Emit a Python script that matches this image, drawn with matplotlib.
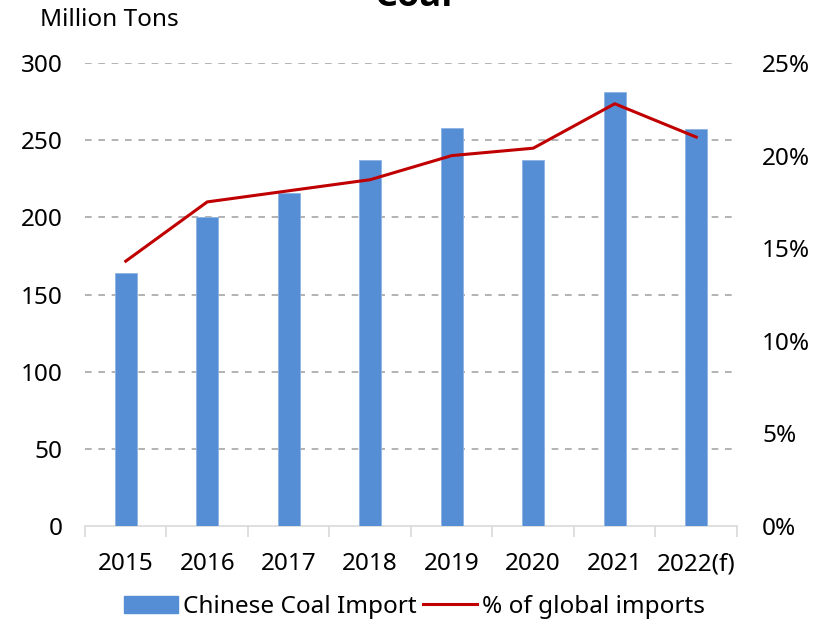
import matplotlib
matplotlib.use("Agg")
import matplotlib.pyplot as plt
from matplotlib.patches import Patch
from matplotlib.lines import Line2D
from matplotlib.ticker import FuncFormatter, MultipleLocator
import numpy as np

years = ["2015", "2016", "2017", "2018", "2019", "2020", "2021", "2022(f)"]
coal_import = [164, 200, 216, 237, 258, 237, 281, 257]
global_share = [14.3, 17.5, 18.1, 18.7, 20.0, 20.4, 22.8, 21.0]

plt.rcParams['font.family'] = ['Noto Sans', 'DejaVu Sans']

fig = plt.figure(figsize=(8.29, 6.23), dpi=100)
ax = fig.add_axes([85/829, 1-526/623, (737-85)/829, (526-63)/623])
ax2 = ax.twinx()

x = np.arange(len(years))
ax.bar(x, coal_import, width=0.27, color='#558ED5', edgecolor='#8EB4E3', linewidth=0.6, zorder=3)
ax2.plot(x, global_share, color='#C00000', linewidth=2.2, zorder=4)

ax.set_xlim(-0.5, len(years)-0.5)
ax.set_ylim(0, 300)
ax2.set_ylim(0, 25)
ax.yaxis.set_major_locator(MultipleLocator(50))
ax2.yaxis.set_major_locator(MultipleLocator(5))
ax2.yaxis.set_major_formatter(FuncFormatter(lambda v, p: f"{v:.0f}%"))

for yv in range(50, 301, 50):
    ax.axhline(yv, color='#A6A6A6', linestyle=(0, (4, 4)), linewidth=1.2, zorder=1)

for a in (ax, ax2):
    for s in ('top', 'left', 'right'):
        a.spines[s].set_visible(False)
ax2.spines['bottom'].set_visible(False)
ax.spines['bottom'].set_color('#D9D9D9')
ax.spines['bottom'].set_linewidth(1.2)

fs = 17.5
ax.set_xticks(x)
ax.set_xticklabels(years)
ax.set_xticks(np.arange(-0.5, len(years), 1.0), minor=True)
ax.tick_params(axis='x', which='major', length=0, pad=19, labelsize=fs)
ax.tick_params(axis='x', which='minor', length=8, color='#D9D9D9', width=1.2)
ax.tick_params(axis='y', length=0, pad=16, labelsize=fs)
ax2.tick_params(axis='y', length=0, pad=18, labelsize=fs)

fig.text(40/829, 1-20/623, "Million Tons", fontsize=fs, va='center', ha='left')
fig.text(0.5, 1-6/623, "Coal", fontsize=26, fontweight='bold', ha='center', va='baseline',
         family=['Open Sans', 'DejaVu Sans'])

handles = [Patch(facecolor='#558ED5', edgecolor='#558ED5'),
           Line2D([0], [0], color='#C00000', linewidth=2.2)]
fig.legend(handles, ["Chinese Coal Import", "% of global imports"],
           loc='center', bbox_to_anchor=(0.5, 1-607/623), ncol=2, frameon=False,
           fontsize=fs, handlelength=2.2, handletextpad=0.2, columnspacing=0.3)

fig.savefig("out.png", dpi=100)
